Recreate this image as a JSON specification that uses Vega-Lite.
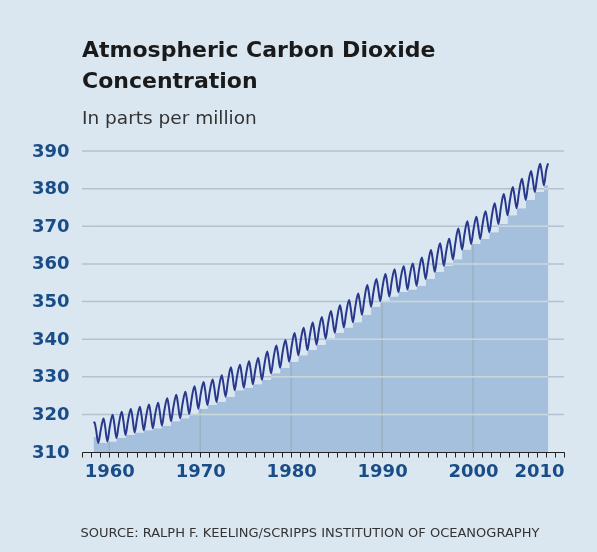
{
  "$schema": "https://vega.github.io/schema/vega-lite/v6.json",
  "width": 482,
  "height": 301,
  "autosize": {"type": "none"},
  "padding": {"left": 82, "top": 151, "right": 33, "bottom": 100},
  "background": "#dae7f1",
  "title": {
    "text": ["Atmospheric Carbon Dioxide", "Concentration"],
    "subtitle": "In parts per million",
    "anchor": "start",
    "frame": "group",
    "font": "DejaVu Sans",
    "fontSize": 22,
    "fontWeight": "bold",
    "lineHeight": 31,
    "color": "#1a1a1a",
    "subtitleFont": "DejaVu Sans",
    "subtitleFontSize": 18.5,
    "subtitleColor": "#333333",
    "subtitlePadding": 16,
    "offset": 14
  },
  "datasets": {
    "co2": [
      {"t": 1958.29, "v": 317.6}, {"t": 1958.37, "v": 317.9}, {"t": 1958.54, "v": 316.0}, {"t": 1958.79, "v": 312.4},
      {"t": 1959.04, "v": 315.6}, {"t": 1959.37, "v": 318.9}, {"t": 1959.54, "v": 316.8}, {"t": 1959.79, "v": 312.8},
      {"t": 1960.04, "v": 316.5}, {"t": 1960.37, "v": 319.9}, {"t": 1960.54, "v": 317.7}, {"t": 1960.79, "v": 313.7},
      {"t": 1961.04, "v": 317.3}, {"t": 1961.37, "v": 320.7}, {"t": 1961.54, "v": 318.5}, {"t": 1961.79, "v": 314.5},
      {"t": 1962.04, "v": 318.1}, {"t": 1962.37, "v": 321.4}, {"t": 1962.54, "v": 319.3}, {"t": 1962.79, "v": 315.2},
      {"t": 1963.04, "v": 318.7}, {"t": 1963.37, "v": 322.0}, {"t": 1963.54, "v": 319.8}, {"t": 1963.79, "v": 315.8},
      {"t": 1964.04, "v": 319.3}, {"t": 1964.37, "v": 322.6}, {"t": 1964.54, "v": 320.4}, {"t": 1964.79, "v": 316.3},
      {"t": 1965.04, "v": 319.9}, {"t": 1965.37, "v": 323.1}, {"t": 1965.54, "v": 320.9}, {"t": 1965.79, "v": 317.0},
      {"t": 1966.04, "v": 320.8}, {"t": 1966.37, "v": 324.3}, {"t": 1966.54, "v": 322.2}, {"t": 1966.79, "v": 318.2},
      {"t": 1967.04, "v": 321.8}, {"t": 1967.37, "v": 325.2}, {"t": 1967.54, "v": 323.0}, {"t": 1967.79, "v": 319.0},
      {"t": 1968.04, "v": 322.6}, {"t": 1968.37, "v": 326.0}, {"t": 1968.54, "v": 323.9}, {"t": 1968.79, "v": 320.1},
      {"t": 1969.04, "v": 323.9}, {"t": 1969.37, "v": 327.5}, {"t": 1969.54, "v": 325.5}, {"t": 1969.79, "v": 321.5},
      {"t": 1970.04, "v": 325.2}, {"t": 1970.37, "v": 328.6}, {"t": 1970.54, "v": 326.5}, {"t": 1970.79, "v": 322.5},
      {"t": 1971.04, "v": 326.0}, {"t": 1971.37, "v": 329.3}, {"t": 1971.54, "v": 327.2}, {"t": 1971.79, "v": 323.3},
      {"t": 1972.04, "v": 326.9}, {"t": 1972.37, "v": 330.4}, {"t": 1972.54, "v": 328.3}, {"t": 1972.79, "v": 324.7},
      {"t": 1973.04, "v": 328.7}, {"t": 1973.37, "v": 332.5}, {"t": 1973.54, "v": 330.5}, {"t": 1973.79, "v": 326.4},
      {"t": 1974.04, "v": 330.0}, {"t": 1974.37, "v": 333.2}, {"t": 1974.54, "v": 331.0}, {"t": 1974.79, "v": 327.1},
      {"t": 1975.04, "v": 330.7}, {"t": 1975.37, "v": 334.1}, {"t": 1975.54, "v": 332.0}, {"t": 1975.79, "v": 328.0},
      {"t": 1976.04, "v": 331.6}, {"t": 1976.37, "v": 335.0}, {"t": 1976.54, "v": 332.9}, {"t": 1976.79, "v": 329.2},
      {"t": 1977.04, "v": 333.0}, {"t": 1977.37, "v": 336.7}, {"t": 1977.54, "v": 334.7}, {"t": 1977.79, "v": 330.9},
      {"t": 1978.04, "v": 334.7}, {"t": 1978.37, "v": 338.3}, {"t": 1978.54, "v": 336.3}, {"t": 1978.79, "v": 332.4},
      {"t": 1979.04, "v": 336.2}, {"t": 1979.37, "v": 339.8}, {"t": 1979.54, "v": 337.7}, {"t": 1979.79, "v": 334.0},
      {"t": 1980.04, "v": 337.9}, {"t": 1980.37, "v": 341.6}, {"t": 1980.54, "v": 339.6}, {"t": 1980.79, "v": 335.7},
      {"t": 1981.04, "v": 339.5}, {"t": 1981.37, "v": 343.0}, {"t": 1981.54, "v": 341.0}, {"t": 1981.79, "v": 337.1},
      {"t": 1982.04, "v": 340.8}, {"t": 1982.37, "v": 344.4}, {"t": 1982.54, "v": 342.3}, {"t": 1982.79, "v": 338.5},
      {"t": 1983.04, "v": 342.3}, {"t": 1983.37, "v": 345.9}, {"t": 1983.54, "v": 343.9}, {"t": 1983.79, "v": 340.1},
      {"t": 1984.04, "v": 343.9}, {"t": 1984.37, "v": 347.5}, {"t": 1984.54, "v": 345.5}, {"t": 1984.79, "v": 341.7},
      {"t": 1985.04, "v": 345.4}, {"t": 1985.37, "v": 349.0}, {"t": 1985.54, "v": 347.0}, {"t": 1985.79, "v": 343.1},
      {"t": 1986.04, "v": 346.8}, {"t": 1986.37, "v": 350.4}, {"t": 1986.54, "v": 348.3}, {"t": 1986.79, "v": 344.5},
      {"t": 1987.04, "v": 348.4}, {"t": 1987.37, "v": 352.1}, {"t": 1987.54, "v": 350.1}, {"t": 1987.79, "v": 346.5},
      {"t": 1988.04, "v": 350.5}, {"t": 1988.37, "v": 354.4}, {"t": 1988.54, "v": 352.4}, {"t": 1988.79, "v": 348.6},
      {"t": 1989.04, "v": 352.4}, {"t": 1989.37, "v": 356.0}, {"t": 1989.54, "v": 354.0}, {"t": 1989.79, "v": 350.1},
      {"t": 1990.04, "v": 353.8}, {"t": 1990.37, "v": 357.3}, {"t": 1990.54, "v": 355.2}, {"t": 1990.79, "v": 351.3},
      {"t": 1991.04, "v": 355.1}, {"t": 1991.37, "v": 358.6}, {"t": 1991.54, "v": 356.4}, {"t": 1991.79, "v": 352.5},
      {"t": 1992.04, "v": 356.1}, {"t": 1992.37, "v": 359.4}, {"t": 1992.54, "v": 357.3}, {"t": 1992.79, "v": 353.2},
      {"t": 1993.04, "v": 356.8}, {"t": 1993.37, "v": 360.1}, {"t": 1993.54, "v": 358.0}, {"t": 1993.79, "v": 354.2},
      {"t": 1994.04, "v": 358.0}, {"t": 1994.37, "v": 361.7}, {"t": 1994.54, "v": 359.7}, {"t": 1994.79, "v": 356.0},
      {"t": 1995.04, "v": 359.9}, {"t": 1995.37, "v": 363.7}, {"t": 1995.54, "v": 361.7}, {"t": 1995.79, "v": 357.9},
      {"t": 1996.04, "v": 361.8}, {"t": 1996.37, "v": 365.5}, {"t": 1996.54, "v": 363.5}, {"t": 1996.79, "v": 359.5},
      {"t": 1997.04, "v": 363.2}, {"t": 1997.37, "v": 366.7}, {"t": 1997.54, "v": 364.7}, {"t": 1997.79, "v": 361.2},
      {"t": 1998.04, "v": 365.3}, {"t": 1998.37, "v": 369.4}, {"t": 1998.54, "v": 367.6}, {"t": 1998.79, "v": 363.8},
      {"t": 1999.04, "v": 367.6}, {"t": 1999.37, "v": 371.3}, {"t": 1999.54, "v": 369.2}, {"t": 1999.79, "v": 365.3},
      {"t": 2000.04, "v": 369.0}, {"t": 2000.37, "v": 372.5}, {"t": 2000.54, "v": 370.4}, {"t": 2000.79, "v": 366.6},
      {"t": 2001.04, "v": 370.4}, {"t": 2001.37, "v": 374.0}, {"t": 2001.54, "v": 372.0}, {"t": 2001.79, "v": 368.4},
      {"t": 2002.04, "v": 372.3}, {"t": 2002.37, "v": 376.1}, {"t": 2002.54, "v": 374.2}, {"t": 2002.79, "v": 370.6},
      {"t": 2003.04, "v": 374.6}, {"t": 2003.37, "v": 378.6}, {"t": 2003.54, "v": 376.7}, {"t": 2003.79, "v": 372.9},
      {"t": 2004.04, "v": 376.7}, {"t": 2004.37, "v": 380.4}, {"t": 2004.54, "v": 378.4}, {"t": 2004.79, "v": 374.8},
      {"t": 2005.04, "v": 378.8}, {"t": 2005.37, "v": 382.6}, {"t": 2005.54, "v": 380.7}, {"t": 2005.79, "v": 377.0},
      {"t": 2006.04, "v": 380.9}, {"t": 2006.37, "v": 384.7}, {"t": 2006.54, "v": 382.8}, {"t": 2006.79, "v": 379.1},
      {"t": 2007.04, "v": 382.9}, {"t": 2007.37, "v": 386.6}, {"t": 2007.54, "v": 384.7}, {"t": 2007.79, "v": 380.9},
      {"t": 2008.04, "v": 384.8}, {"t": 2008.25, "v": 386.7}
    ],
    "floor": [
      {"t": 1958.29, "a": 314.0}, {"t": 1958.79, "a": 312.4}, {"t": 1959.79, "a": 312.8}, {"t": 1960.79, "a": 313.7},
      {"t": 1961.79, "a": 314.5}, {"t": 1962.79, "a": 315.2}, {"t": 1963.79, "a": 315.8}, {"t": 1964.79, "a": 316.3},
      {"t": 1965.79, "a": 317.0}, {"t": 1966.79, "a": 318.2}, {"t": 1967.79, "a": 319.0}, {"t": 1968.79, "a": 320.1},
      {"t": 1969.79, "a": 321.5}, {"t": 1970.79, "a": 322.5}, {"t": 1971.79, "a": 323.3}, {"t": 1972.79, "a": 324.7},
      {"t": 1973.79, "a": 326.4}, {"t": 1974.79, "a": 327.1}, {"t": 1975.79, "a": 328.0}, {"t": 1976.79, "a": 329.2},
      {"t": 1977.79, "a": 330.9}, {"t": 1978.79, "a": 332.4}, {"t": 1979.79, "a": 334.0}, {"t": 1980.79, "a": 335.7},
      {"t": 1981.79, "a": 337.1}, {"t": 1982.79, "a": 338.5}, {"t": 1983.79, "a": 340.1}, {"t": 1984.79, "a": 341.7},
      {"t": 1985.79, "a": 343.1}, {"t": 1986.79, "a": 344.5}, {"t": 1987.79, "a": 346.5}, {"t": 1988.79, "a": 348.6},
      {"t": 1989.79, "a": 350.1}, {"t": 1990.79, "a": 351.3}, {"t": 1991.79, "a": 352.5}, {"t": 1992.79, "a": 353.2},
      {"t": 1993.79, "a": 354.2}, {"t": 1994.79, "a": 356.0}, {"t": 1995.79, "a": 357.9}, {"t": 1996.79, "a": 359.5},
      {"t": 1997.79, "a": 361.2}, {"t": 1998.79, "a": 363.8}, {"t": 1999.79, "a": 365.3}, {"t": 2000.79, "a": 366.6},
      {"t": 2001.79, "a": 368.4}, {"t": 2002.79, "a": 370.6}, {"t": 2003.79, "a": 372.9}, {"t": 2004.79, "a": 374.8},
      {"t": 2005.79, "a": 377.0}, {"t": 2006.79, "a": 379.1}, {"t": 2007.79, "a": 380.9}, {"t": 2008.25, "a": 380.9}
    ],
    "inner": [{"g": 320}, {"g": 330}, {"g": 340}, {"g": 350}, {"g": 360}, {"g": 370}, {"g": 380}],
    "grid": [{"g": 320}, {"g": 330}, {"g": 340}, {"g": 350}, {"g": 360}, {"g": 370}, {"g": 380}, {"g": 390}],
    "decades": [{"d": 1960}, {"d": 1970}, {"d": 1980}, {"d": 1990}, {"d": 2000}]
  },
  "layer": [
    {
      "data": {"name": "floor"},
      "mark": {"type": "area", "interpolate": "step-after", "color": "#a4c0dc"},
      "encoding": {
        "x": {
          "field": "t", "type": "quantitative",
          "scale": {"domain": [1957, 2010], "nice": false, "zero": false},
          "axis": {
            "title": "SOURCE: RALPH F. KEELING/SCRIPPS INSTITUTION OF OCEANOGRAPHY",
            "values": [1957,1958,1959,1960,1961,1962,1963,1964,1965,1966,1967,1968,1969,1970,1971,1972,1973,1974,1975,1976,1977,1978,1979,1980,1981,1982,1983,1984,1985,1986,1987,1988,1989,1990,1991,1992,1993,1994,1995,1996,1997,1998,1999,2000,2001,2002,2003,2004,2005,2006,2007,2008,2009,2010],
            "tickCount": 100,
            "format": "d",
            "labelExpr": "datum.value % 10 === 0 ? datum.label : ''",
            "grid": false
          }
        },
        "y": {
          "field": "a", "type": "quantitative",
          "scale": {"domain": [310, 390], "nice": false, "zero": false},
          "axis": {"title": null, "values": [310, 320, 330, 340, 350, 360, 370, 380, 390], "tickCount": 20, "grid": false}
        },
        "y2": {"datum": 310}
      }
    },
    {
      "data": {"name": "decades"},
      "mark": {"type": "rule", "color": "#9cb0c2", "strokeWidth": 1.5},
      "encoding": {"x": {"field": "d", "type": "quantitative"}}
    },
    {
      "data": {"name": "inner"},
      "mark": {"type": "rule", "color": "#f5ffff", "strokeWidth": 1.5},
      "encoding": {
        "y": {"field": "g", "type": "quantitative"},
        "x": {"datum": 1958.29},
        "x2": {"datum": 2008.25}
      }
    },
    {
      "data": {"name": "floor"},
      "mark": {"type": "area", "interpolate": "step-after", "color": "#dae7f1"},
      "encoding": {
        "x": {"field": "t", "type": "quantitative"},
        "y": {"field": "a", "type": "quantitative"},
        "y2": {"datum": 390}
      }
    },
    {
      "data": {"name": "grid"},
      "mark": {"type": "rule", "color": "#d2d6da", "strokeWidth": 1.5, "blend": "multiply"},
      "encoding": {"y": {"field": "g", "type": "quantitative"}}
    },
    {
      "data": {"name": "co2"},
      "mark": {"type": "line", "interpolate": "monotone", "color": "#28388c", "strokeWidth": 2},
      "encoding": {
        "x": {"field": "t", "type": "quantitative"},
        "y": {"field": "v", "type": "quantitative"}
      }
    }
  ],
  "config": {
    "view": {"stroke": null},
    "axis": {
      "labelFont": "DejaVu Sans",
      "labelFontWeight": "bold",
      "labelFontSize": 18,
      "labelColor": "#1a4d87",
      "labelOverlap": false
    },
    "axisY": {
      "domain": false,
      "ticks": false,
      "labelPadding": 13,
      "labelBaseline": "middle"
    },
    "axisX": {
      "zindex": 1,
      "domainColor": "#222222",
      "domainWidth": 1,
      "tickColor": "#222222",
      "tickSize": 5,
      "tickWidth": 1,
      "labelPadding": 5,
      "labelOverlap": false,
      "titleFont": "DejaVu Sans",
      "titleFontSize": 13,
      "titleFontWeight": "normal",
      "titleColor": "#333333",
      "titleAlign": "left",
      "titleAnchor": "start",
      "titleBaseline": "alphabetic",
      "titleX": -2,
      "titleY": 84
    }
  }
}
